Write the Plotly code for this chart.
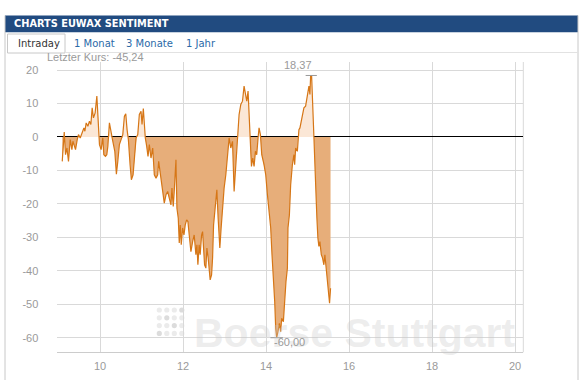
import plotly.graph_objects as go

# ---------------- data ----------------
times = [9.089, 9.137, 9.168, 9.202, 9.240, 9.281, 9.322, 9.346, 9.385, 9.409,
         9.450, 9.481, 9.522, 9.570, 9.611, 9.635, 9.666, 9.707, 9.745, 9.779,
         9.810, 9.841, 9.882, 9.923, 9.954, 9.986, 10.026, 10.067, 10.091, 10.130,
         10.163, 10.188, 10.226, 10.267, 10.308, 10.356, 10.394, 10.428, 10.466, 10.507,
         10.548, 10.587, 10.620, 10.651, 10.683, 10.724, 10.755, 10.796, 10.827, 10.868,
         10.909, 10.947, 10.988, 11.012, 11.043, 11.067, 11.091, 11.125, 11.156, 11.188,
         11.228, 11.269, 11.308, 11.349, 11.389, 11.413, 11.469, 11.510, 11.548, 11.589,
         11.630, 11.668, 11.709, 11.733, 11.764, 11.788, 11.829, 11.853, 11.885, 11.909,
         11.933, 11.957, 11.990, 12.022, 12.053, 12.087, 12.118, 12.149, 12.190, 12.231,
         12.269, 12.310, 12.334, 12.358, 12.389, 12.413, 12.447, 12.471, 12.495, 12.519,
         12.550, 12.575, 12.606, 12.630, 12.654, 12.688, 12.712, 12.736, 12.767, 12.791,
         12.815, 12.846, 12.887, 12.918, 12.952, 12.990, 13.031, 13.072, 13.111, 13.151,
         13.192, 13.231, 13.272, 13.312, 13.351, 13.392, 13.433, 13.471, 13.512, 13.536,
         13.567, 13.591, 13.615, 13.649, 13.680, 13.712, 13.745, 13.776, 13.808, 13.832,
         13.865, 13.897, 13.952, 13.993, 14.034, 14.072, 14.113, 14.144, 14.178, 14.209,
         14.233, 14.257, 14.288, 14.322, 14.353, 14.377, 14.418, 14.433, 14.457, 14.481,
         14.515, 14.529, 14.563, 14.594, 14.635, 14.673, 14.690, 14.714, 14.755, 14.769,
         14.793, 14.817, 14.851, 14.875, 14.899, 14.913, 14.954, 14.978, 15.010, 15.034,
         15.058, 15.075, 15.099, 15.123, 15.139, 15.154, 15.178, 15.202, 15.226, 15.250,
         15.274, 15.298, 15.332, 15.363, 15.394, 15.418, 15.452, 15.476, 15.500, 15.531,
         15.555]
values = [-7.3, 1.5, -5.3, -3.3, -7.3, -0.8, -3.8, -1.3, -2.8, -3.8,
          -0.8, 0.7, -0.3, 1.2, 2.7, 1.7, 4.2, 3.2, 4.7, 3.7,
          8.7, 5.7, 7.2, 12.2, 5.7, -2.3, -3.8, -0.3, -5.3, -5.8,
          -5.3, -2.8, 4.2, 0.7, -1.3, -4.3, -11.1, -7.3, -2.3, -0.8,
          0.7, 6.2, 6.9, 2.2, -0.8, -8.3, -12.8, -11.3, -6.3, -0.3,
          0.7, 6.7, 7.7, 3.7, 8.5, 2.7, -0.3, -2.8, -5.8, -2.3,
          -6.3, -3.3, -11.3, -12.3, -11.3, -7.3, -12.3, -16.3, -19.8, -17.3,
          -16.3, -18.3, -20.3, -15.3, -20.8, -16.3, -6.8, -21.3, -24.3, -31.7,
          -26.3, -32.2, -27.2, -29.3, -26.3, -24.8, -25.3, -29.3, -34.3, -31.3,
          -29.3, -35.2, -32.2, -38.2, -32.2, -35.2, -29.3, -28.3, -34.3, -38.2,
          -39.2, -33.2, -36.2, -40.2, -42.7, -41.2, -36.2, -26.3, -21.3, -19.3,
          -15.8, -24.3, -33.2, -27.2, -21.3, -15.3, -11.3, -4.3, -0.3, -3.3,
          -1.3, -16.3, -7.3, -0.3, 6.7, 9.7, 10.7, 15.2, 12.7, 10.7,
          13.7, 5.7, -1.3, -8.8, -6.3, -8.8, -4.3, -5.3, -0.3, 2.7,
          0.7, -5.3, -8.3, -11.3, -17.3, -21.3, -27.2, -35.2, -41.2, -49.2,
          -57.2, -60.0, -58.2, -55.7, -58.2, -54.2, -55.2, -51.2, -46.2, -43.2,
          -39.2, -27.2, -23.3, -14.3, -8.3, -5.3, -8.3, -3.3, -4.3, -0.3,
          2.2, 2.7, 4.7, 6.7, 7.2, 8.7, 9.2, 11.2, 13.2, 15.2,
          12.7, 18.37, 18.1, 7.7, 4.2, 0.0, -8.3, -18.3, -24.3, -30.2,
          -32.7, -31.3, -35.2, -36.2, -38.2, -35.2, -40.2, -43.2, -46.2, -49.7,
          -45.24]

x_tickvals = [10, 12, 14, 16, 18, 20]
x_ticktext = ["10", "12", "14", "16", "18", "20"]
y_tickvals = [20, 10, 0, -10, -20, -30, -40, -50, -60]
y_ticktext = ["20", "10", "0", "-10", "-20", "-30", "-40", "-50", "-60"]

title_text = "CHARTS EUWAX SENTIMENT"
tabs = ["Intraday", "1 Monat", "3 Monate", "1 Jahr"]
last_label = "Letzter Kurs: -45,24"
watermark = "Boerse Stuttgart"

# ---------------- helpers ----------------
W, H = 581, 380
def px(X):
    return X / W
def py(Y):
    return 1 - Y / H

# split fill into positive/negative parts with zero crossings inserted
xs, ys = [], []
for i in range(len(times)):
    if i > 0:
        v0, v1 = values[i - 1], values[i]
        if v0 * v1 < 0:
            t0, t1 = times[i - 1], times[i]
            tz = t0 + (t1 - t0) * (0 - v0) / (v1 - v0)
            xs.append(tz)
            ys.append(0.0)
    xs.append(times[i])
    ys.append(values[i])
pos = [max(v, 0) for v in ys]
neg = [min(v, 0) for v in ys]

LINE = "rgb(214,118,22)"
NEGFILL = "rgb(231,174,122)"
POSFILL = "rgb(251,231,214)"
GRID = "#d9d9d9"
TXT = "#9a9a9a"
FONT = "Liberation Sans, Arial, sans-serif"
VFONT = "DejaVu Sans, Verdana, sans-serif"

fig = go.Figure()
fig.add_trace(go.Scatter(x=xs, y=pos, mode="lines", line=dict(width=0),
                         fill="tozeroy", fillcolor=POSFILL, hoverinfo="skip"))
fig.add_trace(go.Scatter(x=xs, y=neg, mode="lines", line=dict(width=0),
                         fill="tozeroy", fillcolor=NEGFILL, hoverinfo="skip"))
fig.add_trace(go.Scatter(x=times, y=values, mode="lines",
                         line=dict(color=LINE, width=1.2)))

imax = max(range(len(values)), key=lambda i: values[i])
imin = min(range(len(values)), key=lambda i: values[i])
fmt = lambda v: f"{v:.2f}".replace(".", ",")

shapes = []
annotations = []

# panel chrome
shapes.append(dict(type="rect", xref="paper", yref="paper", x0=px(5), x1=px(578),
                   y0=py(32.3), y1=py(15.5), fillcolor="#214b80", line=dict(width=0), layer="below"))
shapes.append(dict(type="line", xref="paper", yref="paper", x0=px(5), x1=px(5),
                   y0=py(15.5), y1=0, line=dict(color="#c8c8c8", width=1)))
shapes.append(dict(type="line", xref="paper", yref="paper", x0=px(578), x1=px(578),
                   y0=py(15.5), y1=0, line=dict(color="#c8c8c8", width=1)))
shapes.append(dict(type="rect", xref="paper", yref="paper", x0=px(7.5), x1=px(65),
                   y0=py(53), y1=py(34), fillcolor="white", line=dict(color="#c8c8c8", width=1)))
shapes.append(dict(type="line", xref="paper", yref="paper", x0=px(65), x1=px(578),
                   y0=py(52.5), y1=py(52.5), line=dict(color="#e2e2e2", width=1)))
# right border of plot
shapes.append(dict(type="line", xref="paper", yref="paper", x0=px(523.3), x1=px(523.3),
                   y0=py(352.3), y1=py(62), line=dict(color=GRID, width=1), layer="below"))
# watermark dots logo
dot_cols = [159.3, 166.8, 174.3, 181.8]
dot_rows = [310.0, 317.8, 325.6, 333.4]
dark = {(0, 3), (1, 1), (2, 2), (3, 0)}
for r, yy in enumerate(dot_rows):
    for c, xx in enumerate(dot_cols):
        col = "#dcdcdc" if (r, c) in dark else "#ebebeb"
        shapes.append(dict(type="circle", xref="paper", yref="paper",
                           x0=px(xx - 2.6), x1=px(xx + 2.6), y0=py(yy + 2.6), y1=py(yy - 2.6),
                           fillcolor=col, line=dict(width=0), layer="below"))
# max / min markers
shapes.append(dict(type="line", xref="x", yref="y", x0=times[imax] - 0.12, x1=times[imax] + 0.15,
                   y0=values[imax], y1=values[imax], line=dict(color="#999999", width=1)))
shapes.append(dict(type="line", xref="x", yref="y", x0=times[imin] - 0.15, x1=times[imin] + 0.15,
                   y0=values[imin], y1=values[imin], line=dict(color="#999999", width=1)))

annotations.append(dict(text=f"<b>{title_text}</b>", xref="paper", yref="paper", x=px(12), y=py(24),
                        xanchor="left", yanchor="middle", showarrow=False,
                        font=dict(family=VFONT, size=9.8, color="white")))
tab_x = [16, 72, 124, 184]
for i, (t, xx) in enumerate(zip(tabs, tab_x)):
    annotations.append(dict(text=t, xref="paper", yref="paper", x=px(xx), y=py(43.5),
                            xanchor="left", yanchor="middle", showarrow=False,
                            font=dict(family=VFONT, size=10, color="#333333" if i == 0 else "#2a6aa8")))
annotations.append(dict(text=last_label, xref="paper", yref="paper", x=px(45), y=py(57.5),
                        xanchor="left", yanchor="middle", showarrow=False,
                        font=dict(family=FONT, size=11, color=TXT)))
annotations.append(dict(text=f"<b>{watermark}</b>", xref="paper", yref="paper", x=px(355), y=py(333),
                        xanchor="center", yanchor="middle", showarrow=False,
                        font=dict(family=FONT, size=41, color="rgba(200,200,200,0.32)")))
annotations.append(dict(text=fmt(values[imax]), x=times[imax], y=values[imax], xref="x", yref="y",
                        xshift=-13, yshift=10, showarrow=False,
                        font=dict(family=FONT, size=11, color=TXT)))
annotations.append(dict(text=fmt(values[imin]), x=times[imin], y=values[imin], xref="x", yref="y",
                        xshift=13, yshift=-4.5, showarrow=False,
                        font=dict(family=FONT, size=11, color=TXT)))

fig.update_layout(
    width=W, height=H,
    margin=dict(l=0, r=0, t=0, b=0),
    paper_bgcolor="white", plot_bgcolor="white",
    showlegend=False,
    shapes=shapes, annotations=annotations,
    xaxis=dict(domain=[px(57.3), px(523.3)], range=[8.97, 20.2],
               tickvals=x_tickvals, ticktext=x_ticktext,
               showgrid=True, gridcolor=GRID, gridwidth=1,
               zeroline=False, showline=True, linecolor="#cccccc", linewidth=1,
               ticks="", ticklabelstandoff=3, automargin=False,
               tickfont=dict(family=FONT, size=11, color=TXT)),
    yaxis=dict(domain=[py(352.3), py(62)], range=[-64.36, 22.4],
               tickvals=y_tickvals, ticktext=y_ticktext,
               showgrid=True, gridcolor=GRID, gridwidth=1,
               zeroline=True, zerolinecolor="black", zerolinewidth=1.3,
               showline=False, ticks="", ticklabelstandoff=18, automargin=False,
               tickfont=dict(family=FONT, size=11, color=TXT)),
)

fig.write_html("out.html", config={"displayModeBar": False},
               post_script="document.body.style.margin='0';document.body.style.padding='0';")
